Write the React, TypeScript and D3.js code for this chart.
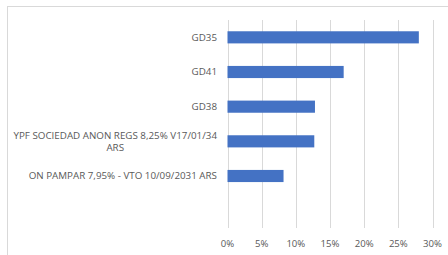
import React from "react";
import * as d3 from "d3";

const categories = [
  "GD35",
  "GD41",
  "GD38",
  "YPF SOCIEDAD ANON REGS 8,25% V17/01/34 ARS",
  "ON PAMPAR 7,95% - VTO 10/09/2031 ARS",
  "",
];
const values = [0.28, 0.17, 0.128, 0.127, 0.082, null];
const tickValues = [0, 0.05, 0.1, 0.15, 0.2, 0.25, 0.3];

const labelLines: Record<string, string[]> = {
  "YPF SOCIEDAD ANON REGS 8,25% V17/01/34 ARS": ["YPF SOCIEDAD ANON REGS 8,25% V17/01/34", "ARS"],
};

const FONT = "'Open Sans', 'Liberation Sans', sans-serif";
const LABEL_SIZE = 9.8;

function measure(text: string): number {
  const c = document.createElement("canvas").getContext("2d");
  if (!c) return text.length * 5.5;
  c.font = `${LABEL_SIZE}px ${FONT}`;
  return c.measureText(text).width;
}

export default function App() {
  const W = 448, H = 255;
  const x = d3.scaleLinear().domain([0, 0.3]).range([227.5, 432.5]);
  const y = d3.scaleBand<string>().domain(categories.map((c, i) => i + "")).range([20, 228]).paddingInner(0.65).paddingOuter(0.325);
  const fmt = d3.format(".0%");
  const labelRight = 217;
  return (
    <svg width={W} height={H} style={{ position: "absolute", left: 0, top: 0 }}>
      <rect x={0} y={0} width={W} height={H} fill="#fff" />
      <rect x={7.5} y={6.5} width={W + 20} height={H + 20} fill="none" stroke="#d9d9d9" />
      {tickValues.map((t) => (
        <line key={t} x1={Math.round(x(t)) + 0.5} x2={Math.round(x(t)) + 0.5} y1={20} y2={228} stroke="#d9d9d9" />
      ))}
      {categories.map((c, i) => {
        const v = values[i];
        const yy = y(i + "")!;
        const cy = yy + y.bandwidth() / 2;
        const lines = labelLines[c] || (c ? [c] : []);
        const multi = lines.length > 1;
        const blockW = multi ? Math.max(...lines.map(measure)) : 0;
        return (
          <g key={i}>
            {v != null && (
              <rect x={x(0)} y={yy} width={x(v) - x(0)} height={y.bandwidth()} fill="#4472c4" />
            )}
            {lines.map((l, j) => (
              <text
                key={j}
                x={multi ? labelRight - blockW / 2 : labelRight}
                y={cy + (j - (lines.length - 1) / 2) * 12.5}
                dy="0.35em"
                textAnchor={multi ? "middle" : "end"}
                fontFamily={FONT}
                fontSize={LABEL_SIZE}
                fill="#595959"
              >
                {l}
              </text>
            ))}
          </g>
        );
      })}
      {tickValues.map((t) => (
        <text key={"l" + t} x={x(t)} y={244} dy="0.35em" textAnchor="middle" fontFamily={FONT} fontSize={9.6} fill="#595959">
          {fmt(t)}
        </text>
      ))}
    </svg>
  );
}
